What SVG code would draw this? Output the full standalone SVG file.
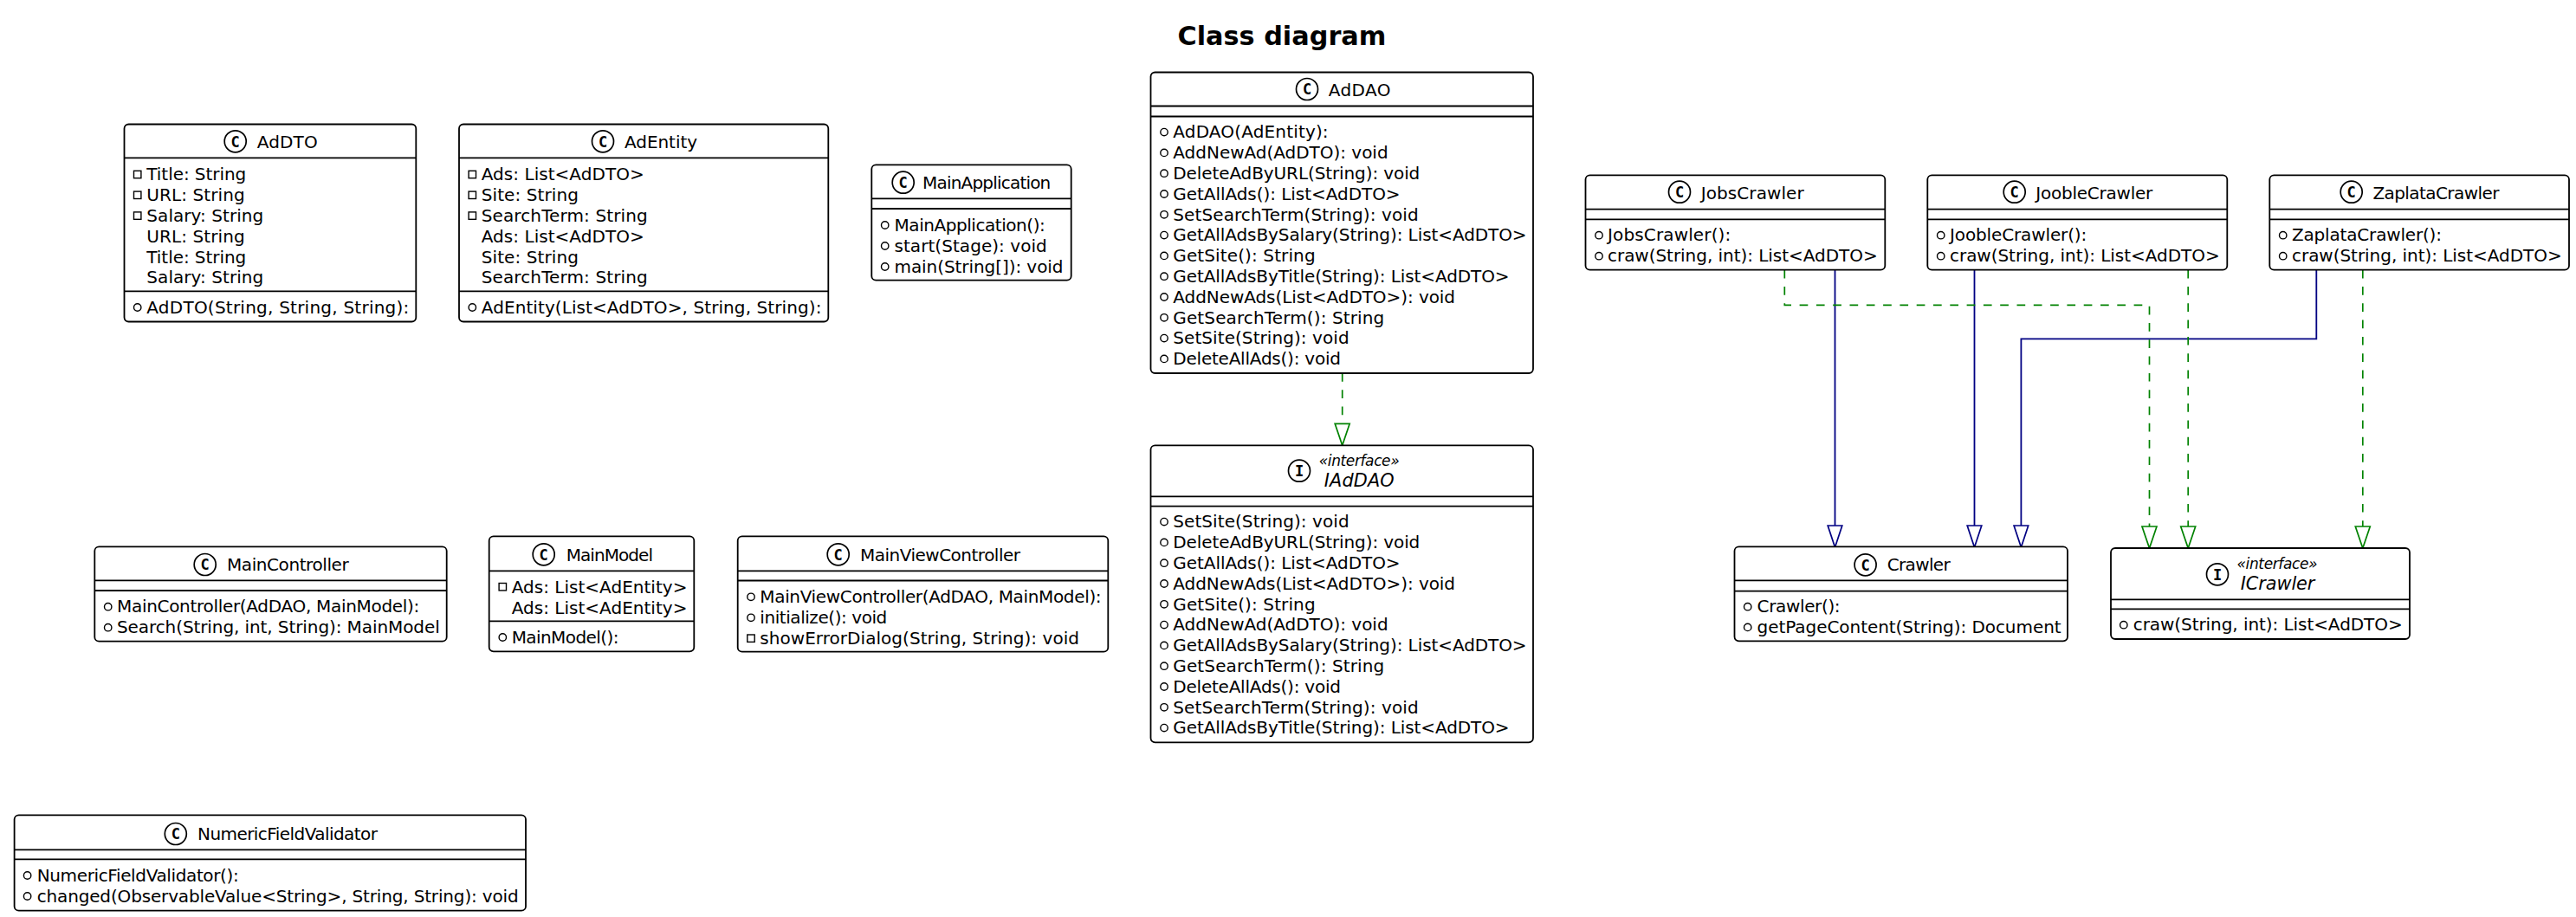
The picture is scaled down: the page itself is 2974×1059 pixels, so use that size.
<svg xmlns="http://www.w3.org/2000/svg" width="2974" height="1059" viewBox="0 0 2974 1059">
<style>
text{font-family:"DejaVu Sans",sans-serif;fill:#000}
.t{font-size:20px}
.r{font-size:20px}
.ttl{font-size:30.3px;font-weight:bold}
.it{font-size:20.8px;font-style:italic}
.st{font-size:17px;font-style:italic}
.sp{font-family:"DejaVu Sans Mono",monospace;font-size:17px;font-weight:bold;text-anchor:middle}
.b{fill:#fff;stroke:#000;stroke-width:1.8}
.l{stroke:#000;stroke-width:1.8;fill:none}
.c{fill:none;stroke:#000;stroke-width:1.7}
.v{fill:none;stroke:#000;stroke-width:1.4}
.ext{fill:none;stroke:#000082;stroke-width:1.8;marker-end:url(#ma)}
.imp{fill:none;stroke:#008200;stroke-width:1.7;stroke-dasharray:9.7 9.6;marker-end:url(#mg)}
</style>
<defs>
<marker id="ma" markerUnits="userSpaceOnUse" markerWidth="30" markerHeight="30" refX="26" refY="10" orient="auto" overflow="visible"><polygon points="1,1.7 26,10 1,18.3" fill="#fff" stroke="#000082" stroke-width="1.7"/></marker>
<marker id="mg" markerUnits="userSpaceOnUse" markerWidth="30" markerHeight="30" refX="26" refY="10" orient="auto" overflow="visible"><polygon points="1,1.5 26,10 1,18.5" fill="#fff" stroke="#008200" stroke-width="1.7"/></marker>
</defs>
<rect width="2974" height="1059" fill="#fff"/>
<text class="ttl" x="1359.5" y="51.7">Class diagram</text>
<g id="connectors">
<path class="imp" d="M1549.7 431V514.3"/>
<path class="ext" d="M2118.5 311.7V632"/>
<path class="ext" d="M2279.5 311.7V632"/>
<path class="ext" d="M2674.3 311.7V391.3H2333.4V632"/>
<path class="imp" d="M2060.3 311.7V352.3H2481.5V633"/>
<path class="imp" d="M2526.2 311.7V633"/>
<path class="imp" d="M2727.8 311.7V633"/>
</g>
<g id="AdDTO">
<rect class="b" x="143.5" y="143.5" width="336.8" height="228" rx="5"/>
<path class="l" d="M143.5 182.3H480.3M143.5 336.3H480.3"/>
<circle class="c" cx="271.7" cy="163.3" r="12.5"/><text class="sp" x="271.7" y="169.5">C</text>
<text class="t" x="296.7" y="170.7" textLength="70">AdDTO</text>
<rect class="v" x="154.5" y="197.3" width="8.4" height="8.4"/><rect class="v" x="154.5" y="221.1" width="8.4" height="8.4"/><rect class="v" x="154.5" y="244.9" width="8.4" height="8.4"/>
<text class="r" x="169.3" y="208.3" textLength="115">Title: String</text>
<text class="r" x="169.3" y="232.1" textLength="113.3">URL: String</text>
<text class="r" x="169.3" y="255.9" textLength="135">Salary: String</text>
<text class="r" x="169.3" y="279.7" textLength="113.3">URL: String</text>
<text class="r" x="169.3" y="303.5" textLength="115">Title: String</text>
<text class="r" x="169.3" y="327.3" textLength="135">Salary: String</text>
<circle class="v" cx="158.7" cy="355" r="4.2"/>
<text class="r" x="169.3" y="361.7" textLength="303">AdDTO(String, String, String):</text>
</g>
<g id="AdEntity">
<rect class="b" x="530" y="143.5" width="426.3" height="228" rx="5"/>
<path class="l" d="M530 182.3H956.3M530 336.3H956.3"/>
<circle class="c" cx="696" cy="163.3" r="12.5"/><text class="sp" x="696" y="169.5">C</text>
<text class="t" x="721" y="170.7" textLength="84">AdEntity</text>
<rect class="v" x="541.1" y="197.3" width="8.4" height="8.4"/><rect class="v" x="541.1" y="221.1" width="8.4" height="8.4"/><rect class="v" x="541.1" y="244.9" width="8.4" height="8.4"/>
<text class="r" x="555.7" y="208.3" textLength="188">Ads: List&lt;AdDTO&gt;</text>
<text class="r" x="555.7" y="232.1" textLength="112.3">Site: String</text>
<text class="r" x="555.7" y="255.9" textLength="192">SearchTerm: String</text>
<text class="r" x="555.7" y="279.7" textLength="188">Ads: List&lt;AdDTO&gt;</text>
<text class="r" x="555.7" y="303.5" textLength="112.3">Site: String</text>
<text class="r" x="555.7" y="327.3" textLength="192">SearchTerm: String</text>
<circle class="v" cx="545.3" cy="355" r="4.2"/>
<text class="r" x="555.7" y="361.7" textLength="392.7">AdEntity(List&lt;AdDTO&gt;, String, String):</text>
</g>
<g id="MainApplication">
<rect class="b" x="1006.3" y="190.3" width="230.4" height="133.4" rx="5"/>
<path class="l" d="M1006.3 229.3H1236.7M1006.3 241H1236.7"/>
<circle class="c" cx="1042.7" cy="210.7" r="12.5"/><text class="sp" x="1042.7" y="216.9">C</text>
<text class="t" x="1065" y="218" textLength="148.3">MainApplication</text>
<circle class="v" cx="1021.7" cy="260" r="4.2"/><circle class="v" cx="1021.7" cy="284" r="4.2"/><circle class="v" cx="1021.7" cy="308" r="4.2"/>
<text class="r" x="1032.5" y="266.7" textLength="174.3">MainApplication():</text>
<text class="r" x="1032.5" y="290.7" textLength="176.3">start(Stage): void</text>
<text class="r" x="1032.5" y="314.7" textLength="195">main(String[]): void</text>
</g>
<g id="AdDAO">
<rect class="b" x="1328.5" y="83.5" width="441.5" height="347.5" rx="5"/>
<path class="l" d="M1328.5 122.5H1770M1328.5 134.5H1770"/>
<circle class="c" cx="1509" cy="103" r="12.5"/><text class="sp" x="1509" y="109.2">C</text>
<text class="t" x="1533.7" y="110.7" textLength="71.7">AdDAO</text>
<circle class="v" cx="1344" cy="152.6" r="4.2"/><circle class="v" cx="1344" cy="176.4" r="4.2"/><circle class="v" cx="1344" cy="200.2" r="4.2"/><circle class="v" cx="1344" cy="224" r="4.2"/><circle class="v" cx="1344" cy="247.8" r="4.2"/><circle class="v" cx="1344" cy="271.6" r="4.2"/><circle class="v" cx="1344" cy="295.4" r="4.2"/><circle class="v" cx="1344" cy="319.2" r="4.2"/><circle class="v" cx="1344" cy="343" r="4.2"/><circle class="v" cx="1344" cy="366.8" r="4.2"/><circle class="v" cx="1344" cy="390.6" r="4.2"/><circle class="v" cx="1344" cy="414.4" r="4.2"/>
<text class="r" x="1354.3" y="159.3" textLength="179.3">AdDAO(AdEntity):</text>
<text class="r" x="1354.3" y="183.1" textLength="248.3">AddNewAd(AdDTO): void</text>
<text class="r" x="1354.3" y="206.9" textLength="285">DeleteAdByURL(String): void</text>
<text class="r" x="1354.3" y="230.7" textLength="262.3">GetAllAds(): List&lt;AdDTO&gt;</text>
<text class="r" x="1354.3" y="254.5" textLength="283.3">SetSearchTerm(String): void</text>
<text class="r" x="1354.3" y="278.3" textLength="408.3">GetAllAdsBySalary(String): List&lt;AdDTO&gt;</text>
<text class="r" x="1354.3" y="302.1" textLength="164.3">GetSite(): String</text>
<text class="r" x="1354.3" y="325.9" textLength="388.3">GetAllAdsByTitle(String): List&lt;AdDTO&gt;</text>
<text class="r" x="1354.3" y="349.7" textLength="325.7">AddNewAds(List&lt;AdDTO&gt;): void</text>
<text class="r" x="1354.3" y="373.5" textLength="244">GetSearchTerm(): String</text>
<text class="r" x="1354.3" y="397.3" textLength="203.3">SetSite(String): void</text>
<text class="r" x="1354.3" y="421.1" textLength="193.7">DeleteAllAds(): void</text>
</g>
<g id="IAdDAO">
<rect class="b" x="1328.5" y="514.3" width="441.5" height="343" rx="5"/>
<path class="l" d="M1328.5 573.3H1770M1328.5 584.7H1770"/>
<circle class="c" cx="1500" cy="543.7" r="12.5"/><text class="sp" x="1500" y="549.9">I</text>
<text class="st" x="1522.7" y="537.7" textLength="93">«interface»</text>
<text class="it" x="1528.7" y="562" textLength="81">IAdDAO</text>
<circle class="v" cx="1344" cy="602.6" r="4.2"/><circle class="v" cx="1344" cy="626.4" r="4.2"/><circle class="v" cx="1344" cy="650.2" r="4.2"/><circle class="v" cx="1344" cy="674" r="4.2"/><circle class="v" cx="1344" cy="697.8" r="4.2"/><circle class="v" cx="1344" cy="721.6" r="4.2"/><circle class="v" cx="1344" cy="745.4" r="4.2"/><circle class="v" cx="1344" cy="769.2" r="4.2"/><circle class="v" cx="1344" cy="793" r="4.2"/><circle class="v" cx="1344" cy="816.8" r="4.2"/><circle class="v" cx="1344" cy="840.6" r="4.2"/>
<text class="r" x="1354.3" y="609.3" textLength="203.3">SetSite(String): void</text>
<text class="r" x="1354.3" y="633.1" textLength="285">DeleteAdByURL(String): void</text>
<text class="r" x="1354.3" y="656.9" textLength="262.3">GetAllAds(): List&lt;AdDTO&gt;</text>
<text class="r" x="1354.3" y="680.7" textLength="325.7">AddNewAds(List&lt;AdDTO&gt;): void</text>
<text class="r" x="1354.3" y="704.5" textLength="164.3">GetSite(): String</text>
<text class="r" x="1354.3" y="728.3" textLength="248.3">AddNewAd(AdDTO): void</text>
<text class="r" x="1354.3" y="752.1" textLength="408.3">GetAllAdsBySalary(String): List&lt;AdDTO&gt;</text>
<text class="r" x="1354.3" y="775.9" textLength="244">GetSearchTerm(): String</text>
<text class="r" x="1354.3" y="799.7" textLength="193.7">DeleteAllAds(): void</text>
<text class="r" x="1354.3" y="823.5" textLength="283.3">SetSearchTerm(String): void</text>
<text class="r" x="1354.3" y="847.3" textLength="388.3">GetAllAdsByTitle(String): List&lt;AdDTO&gt;</text>
</g>
<g id="JobsCrawler">
<rect class="b" x="1830.5" y="202.3" width="345.8" height="109.4" rx="5"/>
<path class="l" d="M1830.5 241.7H2176.3M1830.5 253.3H2176.3"/>
<circle class="c" cx="1939" cy="221.7" r="12.5"/><text class="sp" x="1939" y="227.9">C</text>
<text class="t" x="1963.7" y="229.7" textLength="119">JobsCrawler</text>
<circle class="v" cx="1846" cy="271.7" r="4.2"/><circle class="v" cx="1846" cy="295.7" r="4.2"/>
<text class="r" x="1856" y="278.3" textLength="142.3">JobsCrawler():</text>
<text class="r" x="1856" y="302.3" textLength="311.7">craw(String, int): List&lt;AdDTO&gt;</text>
</g>
<g id="JoobleCrawler">
<rect class="b" x="2225.3" y="202.3" width="346" height="109.4" rx="5"/>
<path class="l" d="M2225.3 241.7H2571.3M2225.3 253.3H2571.3"/>
<circle class="c" cx="2325.7" cy="221.7" r="12.5"/><text class="sp" x="2325.7" y="227.9">C</text>
<text class="t" x="2350.3" y="229.7" textLength="135">JoobleCrawler</text>
<circle class="v" cx="2240.7" cy="271.7" r="4.2"/><circle class="v" cx="2240.7" cy="295.7" r="4.2"/>
<text class="r" x="2251" y="278.3" textLength="158.3">JoobleCrawler():</text>
<text class="r" x="2251" y="302.3" textLength="311.7">craw(String, int): List&lt;AdDTO&gt;</text>
</g>
<g id="ZaplataCrawler">
<rect class="b" x="2620.3" y="202.3" width="345.7" height="109.4" rx="5"/>
<path class="l" d="M2620.3 241.7H2966M2620.3 253.3H2966"/>
<circle class="c" cx="2714.7" cy="221.7" r="12.5"/><text class="sp" x="2714.7" y="227.9">C</text>
<text class="t" x="2739.4" y="229.7" textLength="146">ZaplataCrawler</text>
<circle class="v" cx="2635.7" cy="271.7" r="4.2"/><circle class="v" cx="2635.7" cy="295.7" r="4.2"/>
<text class="r" x="2646" y="278.3" textLength="173">ZaplataCrawler():</text>
<text class="r" x="2646" y="302.3" textLength="311.7">craw(String, int): List&lt;AdDTO&gt;</text>
</g>
<g id="Crawler">
<rect class="b" x="2002.5" y="631.3" width="384.5" height="109" rx="5"/>
<path class="l" d="M2002.5 670.3H2387M2002.5 682.7H2387"/>
<circle class="c" cx="2153.6" cy="652.3" r="12.5"/><text class="sp" x="2153.6" y="658.5">C</text>
<text class="t" x="2178.7" y="659" textLength="73">Crawler</text>
<circle class="v" cx="2017.7" cy="700.7" r="4.2"/><circle class="v" cx="2017.7" cy="724.4" r="4.2"/>
<text class="r" x="2028.6" y="707.3" textLength="96">Crawler():</text>
<text class="r" x="2028.6" y="731" textLength="351">getPageContent(String): Document</text>
</g>
<g id="ICrawler">
<rect class="b" x="2437" y="633" width="345" height="105" rx="5"/>
<path class="l" d="M2437 692.3H2782M2437 703.3H2782"/>
<circle class="c" cx="2560" cy="663.3" r="12.5"/><text class="sp" x="2560" y="669.5">I</text>
<text class="st" x="2582.5" y="656.7" textLength="93">«interface»</text>
<text class="it" x="2586.7" y="680.7" textLength="85.7">ICrawler</text>
<circle class="v" cx="2451.8" cy="721.7" r="4.2"/>
<text class="r" x="2462.7" y="728.3" textLength="311">craw(String, int): List&lt;AdDTO&gt;</text>
</g>
<g id="MainController">
<rect class="b" x="109.3" y="631.3" width="406.4" height="109.4" rx="5"/>
<path class="l" d="M109.3 670.3H515.7M109.3 682H515.7"/>
<circle class="c" cx="236.7" cy="652" r="12.5"/><text class="sp" x="236.7" y="658.2">C</text>
<text class="t" x="262" y="659.3" textLength="140.7">MainController</text>
<circle class="v" cx="124.7" cy="700.7" r="4.2"/><circle class="v" cx="124.7" cy="724.7" r="4.2"/>
<text class="r" x="135" y="707.3" textLength="349.3">MainController(AdDAO, MainModel):</text>
<text class="r" x="135" y="731.3" textLength="372.7">Search(String, int, String): MainModel</text>
</g>
<g id="MainModel">
<rect class="b" x="564.7" y="619.3" width="236.6" height="133" rx="5"/>
<path class="l" d="M564.7 659.3H801.3M564.7 717.3H801.3"/>
<circle class="c" cx="627.7" cy="640.3" r="12.5"/><text class="sp" x="627.7" y="646.5">C</text>
<text class="t" x="653.7" y="647.7" textLength="100.3">MainModel</text>
<rect class="v" x="576.1" y="673.5" width="8.4" height="8.4"/>
<text class="r" x="590.7" y="684.7" textLength="202.7">Ads: List&lt;AdEntity&gt;</text>
<text class="r" x="590.7" y="708.5" textLength="202.7">Ads: List&lt;AdEntity&gt;</text>
<circle class="v" cx="580.3" cy="736" r="4.2"/>
<text class="r" x="590.7" y="742.7" textLength="123.7">MainModel():</text>
</g>
<g id="MainViewController">
<rect class="b" x="851.7" y="619.3" width="427.6" height="133.4" rx="5"/>
<path class="l" d="M851.7 659.3H1279.3M851.7 670.5H1279.3"/>
<circle class="c" cx="967.7" cy="640.3" r="12.5"/><text class="sp" x="967.7" y="646.5">C</text>
<text class="t" x="993" y="647.7" textLength="185">MainViewController</text>
<circle class="v" cx="867" cy="689.3" r="4.2"/><circle class="v" cx="867" cy="713.3" r="4.2"/>
<rect class="v" x="862.8" y="733" width="8.4" height="8.4"/>
<text class="r" x="877.3" y="696" textLength="394.3">MainViewController(AdDAO, MainModel):</text>
<text class="r" x="877.3" y="720" textLength="147">initialize(): void</text>
<text class="r" x="877.3" y="744" textLength="368.7">showErrorDialog(String, String): void</text>
</g>
<g id="NumericFieldValidator">
<rect class="b" x="16.6" y="941.3" width="590.4" height="110.4" rx="5"/>
<path class="l" d="M16.6 981.3H607M16.6 992.3H607"/>
<circle class="c" cx="202.8" cy="963" r="12.5"/><text class="sp" x="202.8" y="969.2">C</text>
<text class="t" x="228" y="970" textLength="208">NumericFieldValidator</text>
<circle class="v" cx="31.6" cy="1011" r="4.2"/><circle class="v" cx="31.6" cy="1035" r="4.2"/>
<text class="r" x="42.7" y="1017.7" textLength="233">NumericFieldValidator():</text>
<text class="r" x="42.7" y="1041.7" textLength="556">changed(ObservableValue&lt;String&gt;, String, String): void</text>
</g>
</svg>
